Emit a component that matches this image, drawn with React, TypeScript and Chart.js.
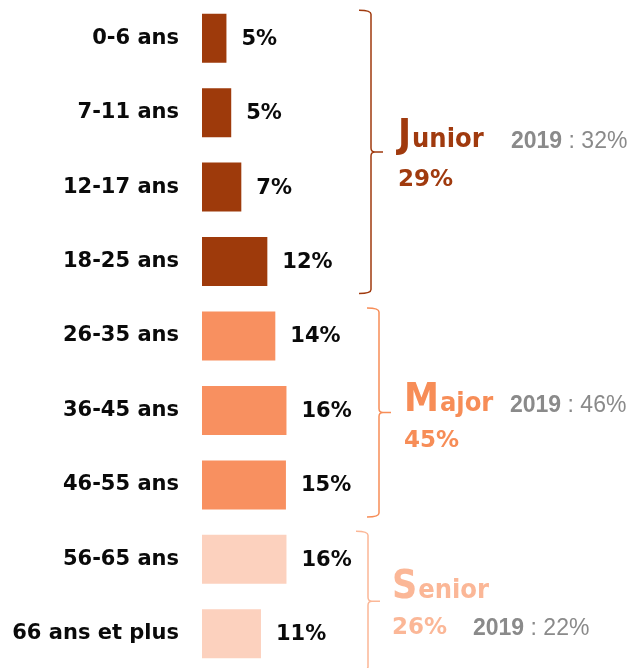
import React, { useEffect, useRef } from "react";
import { Chart, registerables } from "chart.js";

Chart.register(...registerables);

const ageLabels = ["0-6 ans", "7-11 ans", "12-17 ans", "18-25 ans", "26-35 ans", "36-45 ans", "46-55 ans", "56-65 ans", "66 ans et plus"];
const shareValues = [4.6, 5.5, 7.4, 12.3, 13.8, 15.9, 15.8, 15.9, 11.1];
const shareLabels = ["5%", "5%", "7%", "12%", "14%", "16%", "15%", "16%", "11%"];
const barGroup = [0, 0, 0, 0, 1, 1, 1, 2, 2];

const groupNames = ["Junior", "Major", "Senior"];
const groupTotals = ["29%", "45%", "26%"];
const prevYearLabel = "2019";
const groupPrevValues = ["32%", "46%", "22%"];
const groupFirst = [0, 4, 7];
const groupLast = [3, 6, 8];

// styles
const barColors = ["#9E3A0B", "#F89060", "#FCD1BE"];
const groupTextColors = ["#A03A0E", "#F78D57", "#FBB797"];
const braceColors = ["#A03A0E", "#F78D57", "#FBB797"];
const braceX = [371, 379, 368];
const textX = [398, 404, 392];
const titleDy = [-5, -1, -3];
const totalDy = [34, 35, 33];
const prevX = [511, 510, 473];
const prevOnTotalLine = [false, false, true];
const GRAY = "#8A8A8A";

const annotations = {
  id: "annotations",
  afterDatasetsDraw(chart: any) {
    const ctx = chart.ctx;
    const meta = chart.getDatasetMeta(0);
    ctx.save();
    ctx.fillStyle = "#0A0A0A";
    ctx.font = "bold 21px 'DejaVu Sans'";
    ctx.textAlign = "left";
    ctx.textBaseline = "middle";
    meta.data.forEach((bar: any, i: number) => {
      ctx.fillText(shareLabels[i], bar.x + 15, bar.y + 1);
    });

    const yScale = chart.scales.y;
    const n = ageLabels.length;
    for (let g = 0; g < groupNames.length; g++) {
      const top = yScale.getPixelForValue(groupFirst[g]) - 28;
      const bottom = groupLast[g] === n - 1 ? chart.height : yScale.getPixelForValue(groupLast[g]) + 32;
      const mid = (top + bottom) / 2;
      const x = braceX[g];
      const r = 4;
      const hook = 12;
      ctx.strokeStyle = braceColors[g];
      ctx.lineWidth = 1.5;
      ctx.beginPath();
      ctx.moveTo(x - hook, top);
      ctx.quadraticCurveTo(x, top, x, top + r);
      ctx.lineTo(x, mid - r);
      ctx.quadraticCurveTo(x, mid, x + r, mid);
      ctx.lineTo(x + hook, mid);
      ctx.moveTo(x + r, mid);
      ctx.quadraticCurveTo(x, mid, x, mid + r);
      ctx.lineTo(x, bottom - r);
      ctx.quadraticCurveTo(x, bottom, x - hook, bottom);
      ctx.stroke();

      // title: big initial + rest
      const name = groupNames[g];
      const titleY = mid + titleDy[g];
      ctx.textBaseline = "alphabetic";
      ctx.fillStyle = groupTextColors[g];
      ctx.font = "bold 39px 'DejaVu Sans Condensed', 'DejaVu Sans'";
      ctx.fillText(name[0], textX[g], titleY);
      const w0 = ctx.measureText(name[0]).width;
      ctx.font = "bold 27px 'DejaVu Sans Condensed', 'DejaVu Sans'";
      ctx.fillText(name.slice(1), textX[g] + w0 + 1, titleY);

      const totalY = mid + totalDy[g];
      ctx.font = "bold 23px 'DejaVu Sans'";
      ctx.fillText(groupTotals[g], textX[g], totalY);

      const py = prevOnTotalLine[g] ? totalY + 1 : titleY + 1;
      ctx.fillStyle = GRAY;
      ctx.font = "bold 23px 'Liberation Sans'";
      ctx.fillText(prevYearLabel, prevX[g], py);
      const wy = ctx.measureText(prevYearLabel).width;
      ctx.font = "23px 'Liberation Sans'";
      ctx.fillText(" : " + groupPrevValues[g], prevX[g] + wy, py);
    }
    ctx.restore();
  },
};

export default function App() {
  const ref = useRef<HTMLCanvasElement>(null);
  useEffect(() => {
    if (!ref.current) return;
    const chart = new Chart(ref.current, {
      type: "bar",
      data: {
        labels: ageLabels,
        datasets: [
          {
            data: shareValues,
            backgroundColor: barGroup.map((g) => barColors[g]),
            borderWidth: 0,
            barPercentage: 0.658,
            categoryPercentage: 1,
          },
        ],
      },
      options: {
        indexAxis: "y",
        animation: false,
        responsive: false,
        devicePixelRatio: 1,
        layout: { padding: { top: 1, bottom: 0, left: 0, right: 8 } },
        plugins: { legend: { display: false }, tooltip: { enabled: false } },
        scales: {
          x: { display: false, min: 0, max: 80 },
          y: {
            grid: { display: false, drawTicks: false },
            border: { display: false },
            ticks: {
              color: "#0A0A0A",
              padding: 23,
              font: { family: "'DejaVu Sans'", size: 21, weight: "bold" },
            },
            afterFit: (scale: any) => {
              scale.width = 202;
              scale.paddingTop = 0;
              scale.paddingBottom = 0;
            },
          },
        },
      },
      plugins: [annotations],
    });
    return () => chart.destroy();
  }, []);
  return (
    <div style={{ position: "fixed", left: 0, top: 0, width: 635, height: 668, overflow: "hidden", background: "#fff" }}>
      <canvas ref={ref} width={635} height={671} style={{ display: "block" }} />
    </div>
  );
}
